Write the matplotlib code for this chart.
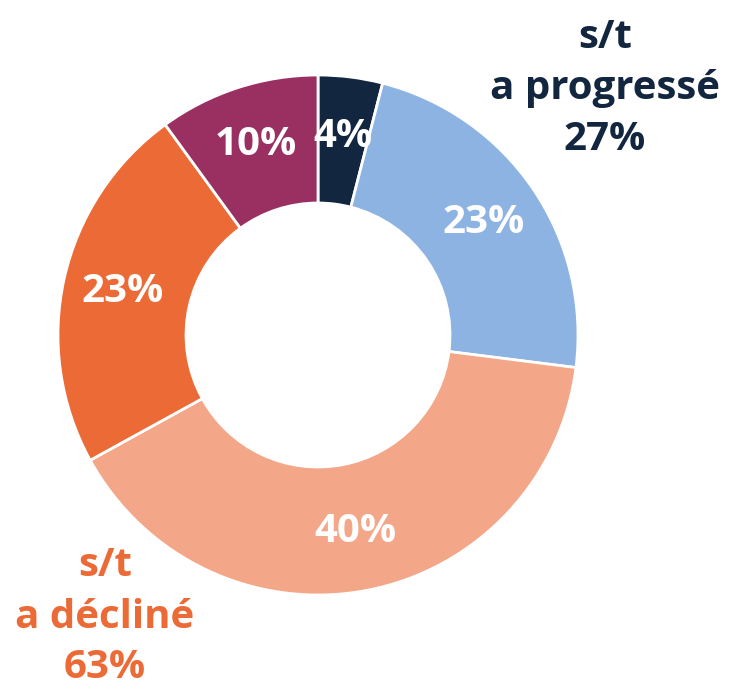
import matplotlib.pyplot as plt
import numpy as np

# valeurs du donut, dans le sens horaire depuis midi
labels = ['4%', '23%', '40%', '23%', '10%']
values = [4, 23, 40, 23, 10]
colors = ['#13263f', '#8db3e2', '#f3a688', '#ec6a36', '#993061']

up_text = 's/t\na progressé\n27%'
down_text = 's/t\na décliné\n63%'

W, H = 740, 693
fig = plt.figure(figsize=(W / 100, H / 100), dpi=100)
ax = fig.add_axes([0, 0, 1, 1])

cx, cy = 318, H - 335
R = 260
ax.pie(values, colors=colors, startangle=90, counterclock=False,
       radius=R, center=(cx, cy), frame=True,
       wedgeprops=dict(width=128, edgecolor='white', linewidth=2))
ax.set_xlim(0, W)
ax.set_ylim(0, H)
ax.set_aspect('equal')
ax.axis('off')

# étiquettes blanches au milieu de l'anneau
start = 90
r_lab = 200
for v, lab in zip(values, labels):
    mid = start - v * 3.6 / 2
    start -= v * 3.6
    x = cx + r_lab * np.cos(np.radians(mid))
    y = cy + r_lab * np.sin(np.radians(mid))
    ax.text(x, y, lab, color='white', fontsize=29, fontweight='bold',
            family='Open Sans', ha='center', va='center')

ax.text(605, H - 88, up_text, color='#13263f', fontsize=29, fontweight='bold',
        family='Open Sans', ha='center', va='center', linespacing=1.4)
ax.text(105, H - 617, down_text, color='#ec6a36', fontsize=29, fontweight='bold',
        family='Open Sans', ha='center', va='center', linespacing=1.4)

fig.savefig('out.png', dpi=100)
